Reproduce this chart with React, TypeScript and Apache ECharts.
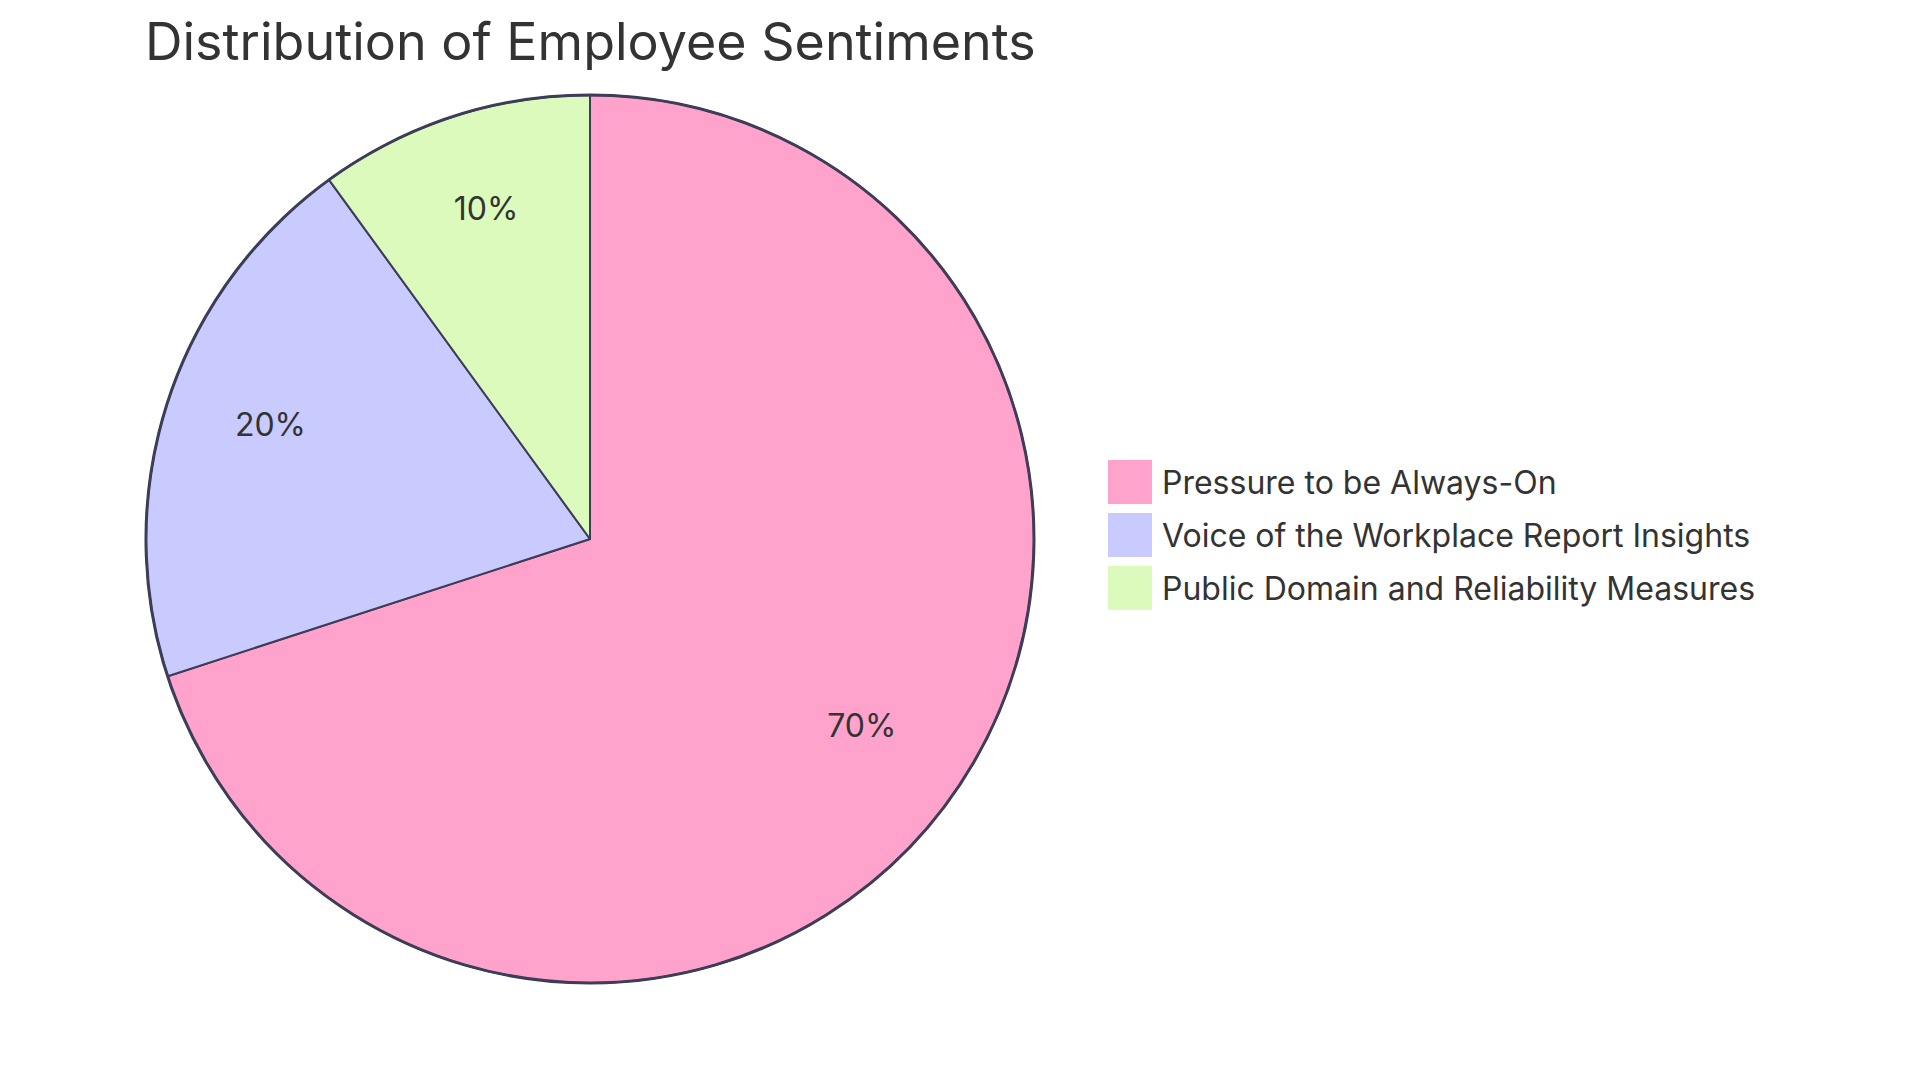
import React, { useEffect, useRef } from "react";
import * as echarts from "echarts";

const titleText = "Distribution of Employee Sentiments";
const categories = [
  "Pressure to be Always-On",
  "Voice of the Workplace Report Insights",
  "Public Domain and Reliability Measures",
];
const values = [70, 20, 10];
const colors = ["#FFA3CC", "#C9CBFF", "#DBFABC"];

const FONT = "Inter, 'Open Sans', sans-serif";
const STROKE = "#3D3D58";

export default function App() {
  const ref = useRef<HTMLDivElement>(null);
  useEffect(() => {
    if (!ref.current) return;
    const chart = echarts.init(ref.current, undefined, { renderer: "svg" });
    const total = values.reduce((a, b) => a + b, 0);
    const data = categories.map((name, i) => ({
      name,
      value: values[i],
      itemStyle: { color: colors[i] },
    }));
    const center = [582, 531];
    chart.setOption({
      animation: false,
      backgroundColor: "#ffffff",
      title: {
        text: titleText,
        left: 132,
        top: 2,
        textStyle: {
          fontFamily: FONT,
          fontSize: 52,
          fontWeight: 400,
          color: "#333333",
        },
      },
      legend: {
        orient: "vertical",
        left: 1095,
        top: 447,
        itemWidth: 44,
        itemHeight: 44,
        itemGap: 9,
        icon: "rect",
        data: categories,
        itemStyle: { borderWidth: 0 },
        textStyle: {
          fontFamily: FONT,
          fontSize: 32,
          color: "#333333",
          padding: [0, 0, 0, 5],
        },
      },
      series: [
        {
          type: "pie",
          center,
          radius: [0, 444],
          startAngle: 90,
          clockwise: true,
          silent: true,
          label: { show: false },
          labelLine: { show: false },
          itemStyle: { borderColor: STROKE, borderWidth: 2 },
          data,
        },
        {
          type: "pie",
          center,
          radius: [0, 444],
          silent: true,
          legendHoverLink: false,
          label: { show: false },
          labelLine: { show: false },
          itemStyle: { color: "transparent", borderColor: STROKE, borderWidth: 3 },
          data: [{ name: "outline", value: 1 }],
        },
        {
          type: "pie",
          center,
          radius: [222, 444],
          startAngle: 90,
          clockwise: true,
          silent: true,
          legendHoverLink: false,
          itemStyle: { color: "transparent", borderWidth: 0 },
          label: {
            show: true,
            position: "inside",
            fontFamily: FONT,
            fontSize: 32,
            lineHeight: 38,
            color: "#333333",
            formatter: (p: any) =>
              `${Math.round((p.value / total) * 100)}%\n{gap|}`,
            rich: {
              gap: { height: 22, lineHeight: 22, fontSize: 1 },
            },
          },
          labelLine: { show: false },
          data: categories.map((name, i) => ({ name, value: values[i] })),
        },
      ],
    });
    return () => chart.dispose();
  }, []);
  return <div ref={ref} style={{ width: 1904, height: 1064 }} />;
}
